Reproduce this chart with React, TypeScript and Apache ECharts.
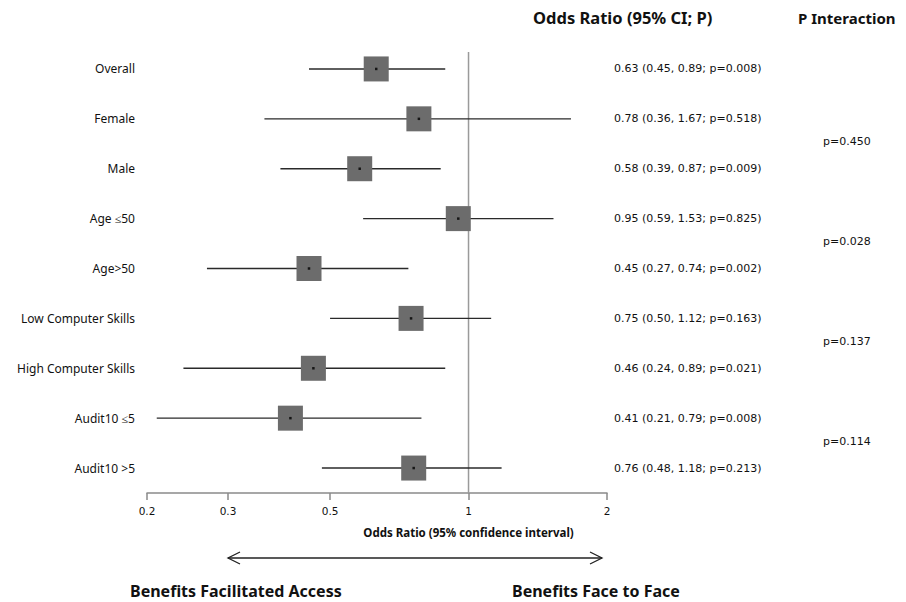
import React, { useEffect, useRef } from 'react';
import * as echarts from 'echarts';

const categories = [
  'Overall',
  'Female',
  'Male',
  'Age ≤50',
  'Age>50',
  'Low Computer Skills',
  'High Computer Skills',
  'Audit10 ≤5',
  'Audit10 >5',
];
const oddsRatio = [0.63, 0.78, 0.58, 0.95, 0.45, 0.75, 0.46, 0.41, 0.76];
const ciLower = [0.45, 0.36, 0.39, 0.59, 0.27, 0.5, 0.24, 0.21, 0.48];
const ciUpper = [0.89, 1.67, 0.87, 1.53, 0.74, 1.12, 0.89, 0.79, 1.18];
const pValues = ['0.008', '0.518', '0.009', '0.825', '0.002', '0.163', '0.021', '0.008', '0.213'];
const interactionLabels = ['p=0.450', 'p=0.028', 'p=0.137', 'p=0.114'];
const interactionRows = [1.5, 3.5, 5.5, 7.5];
const tickValues = [0.2, 0.3, 0.5, 1, 2];
const tickLabels = ['0.2', '0.3', '0.5', '1', '2'];

const LOG = (v: number) => Math.log10(v);

export default function App() {
  const ref = useRef<HTMLDivElement>(null);
  useEffect(() => {
    document.body.style.margin = '0';
    if (!ref.current) return;
    const chart = echarts.init(ref.current, undefined, { renderer: 'svg' });
    const ciStrings = oddsRatio.map(
      (o, i) => `${o.toFixed(2)} (${ciLower[i].toFixed(2)}, ${ciUpper[i].toFixed(2)}; p=${pValues[i]})`
    );
    const tickLog = tickValues.map(LOG);
    const fmt = (v: number) => {
      const k = tickLog.findIndex((t) => Math.abs(t - v) < 1e-6);
      return k >= 0 ? tickLabels[k] : '';
    };
    chart.setOption({
      animation: false,
      backgroundColor: '#ffffff',
      grid: { left: 147, right: 299, top: 44, bottom: 109, containLabel: false },
      xAxis: {
        type: 'value',
        position: 'bottom',
        min: LOG(0.2),
        max: LOG(2),
        splitLine: { show: false },
        axisLine: { show: true, onZero: false, lineStyle: { color: '#8a8a8a', width: 1.5 } },
        axisTick: { show: true, length: 7, customValues: tickLog, lineStyle: { color: '#8a8a8a', width: 1.5 } },
        axisLabel: {
          customValues: tickLog,
          formatter: fmt,
          margin: 12,
          color: '#111',
          fontFamily: 'DejaVu Sans',
          fontSize: 10.5,
        },
      },
      yAxis: [
        {
          type: 'category',
          data: categories,
          inverse: true,
          axisLine: { show: false },
          axisTick: { show: false },
          splitLine: { show: false },
          axisLabel: { margin: 12, color: '#111', fontFamily: 'Noto Sans', fontSize: 12 },
        },
        {
          type: 'category',
          data: ciStrings,
          inverse: true,
          position: 'right',
          axisLine: { show: false },
          axisTick: { show: false },
          splitLine: { show: false },
          axisLabel: { margin: 7, align: 'left', color: '#111', fontFamily: 'DejaVu Sans', fontSize: 11 },
        },
        { type: 'value', min: -0.5, max: 8.5, inverse: true, show: false },
      ],
      series: [
        {
          type: 'custom',
          name: 'ref',
          xAxisIndex: 0,
          yAxisIndex: 2,
          data: [[LOG(1)]],
          encode: { x: 0 },
          renderItem: (params: any, api: any) => {
            const cs = params.coordSys;
            const x = api.coord([api.value(0), 0])[0];
            return {
              type: 'line',
              shape: { x1: x, y1: cs.y + 8, x2: x, y2: cs.y + cs.height },
              style: { stroke: '#9a9a9a', lineWidth: 1.5 },
            };
          },
          z: 1,
        },
        {
          type: 'custom',
          name: 'ci',
          xAxisIndex: 0,
          yAxisIndex: 0,
          data: categories.map((_, i) => [LOG(ciLower[i]), LOG(ciUpper[i]), i]),
          encode: { x: [0, 1], y: 2 },
          renderItem: (params: any, api: any) => {
            const a = api.coord([api.value(0), api.value(2)]);
            const b = api.coord([api.value(1), api.value(2)]);
            return {
              type: 'line',
              shape: { x1: a[0], y1: a[1], x2: b[0], y2: b[1] },
              style: { stroke: '#2a2a2a', lineWidth: 1.4 },
            };
          },
          z: 2,
        },
        {
          type: 'scatter',
          name: 'or',
          xAxisIndex: 0,
          yAxisIndex: 0,
          symbol: 'rect',
          symbolSize: 25,
          itemStyle: { color: '#6c6c6c', opacity: 1 },
          data: categories.map((_, i) => [LOG(oddsRatio[i]), i]),
          z: 3,
        },
        {
          type: 'scatter',
          name: 'dot',
          xAxisIndex: 0,
          yAxisIndex: 0,
          symbol: 'rect',
          symbolSize: 2.5,
          itemStyle: { color: '#000' },
          data: categories.map((_, i) => [LOG(oddsRatio[i]), i]),
          z: 4,
        },
      ],
    });

    const xOf = (v: number) => chart.convertToPixel({ xAxisIndex: 0 }, LOG(v)) as number;
    const yOf = (r: number) => chart.convertToPixel({ yAxisIndex: 2 }, r) as number;
    const arrowY = 558;
    const ax1 = xOf(0.3);
    const ax2 = xOf(2) - 5;
    const arrowStyle = { stroke: '#222', lineWidth: 1.3, fill: 'none' };
    const graphics: any[] = [
      {
        type: 'text',
        left: 533,
        top: 9,
        style: { text: 'Odds Ratio (95% CI; P)', fontFamily: 'Noto Sans', fontWeight: 'bold', fontSize: 16.5, fill: '#111' },
      },
      {
        type: 'text',
        left: 798,
        top: 10,
        style: { text: 'P Interaction', fontFamily: 'Noto Sans', fontWeight: 'bold', fontSize: 15, fill: '#111' },
      },
      {
        type: 'text',
        x: xOf(1),
        y: 532,
        style: {
          text: 'Odds Ratio (95% confidence interval)',
          fontFamily: 'Noto Sans',
          fontWeight: 'bold',
          fontSize: 11.5,
          fill: '#111',
          align: 'center',
          verticalAlign: 'middle',
        },
      },
      { type: 'line', shape: { x1: ax1, y1: arrowY, x2: ax2, y2: arrowY }, style: arrowStyle },
      { type: 'polyline', shape: { points: [[ax1 + 12, arrowY - 6], [ax1, arrowY], [ax1 + 12, arrowY + 6]] }, style: arrowStyle },
      { type: 'polyline', shape: { points: [[ax2 - 12, arrowY - 6], [ax2, arrowY], [ax2 - 12, arrowY + 6]] }, style: arrowStyle },
      {
        type: 'text',
        x: 130,
        y: 591,
        style: { text: 'Benefits Facilitated Access', fontFamily: 'Noto Sans', fontWeight: 'bold', fontSize: 16, fill: '#111', verticalAlign: 'middle' },
      },
      {
        type: 'text',
        x: 512,
        y: 591,
        style: { text: 'Benefits Face to Face', fontFamily: 'Noto Sans', fontWeight: 'bold', fontSize: 16, fill: '#111', verticalAlign: 'middle' },
      },
    ];
    interactionLabels.forEach((t, k) => {
      graphics.push({
        type: 'text',
        x: 823,
        y: yOf(interactionRows[k]) - 2,
        style: { text: t, fontFamily: 'DejaVu Sans', fontSize: 11, fill: '#111', verticalAlign: 'middle' },
      });
    });
    chart.setOption({ graphic: graphics });
    return () => chart.dispose();
  }, []);
  return <div ref={ref} style={{ width: 906, height: 602 }} />;
}
